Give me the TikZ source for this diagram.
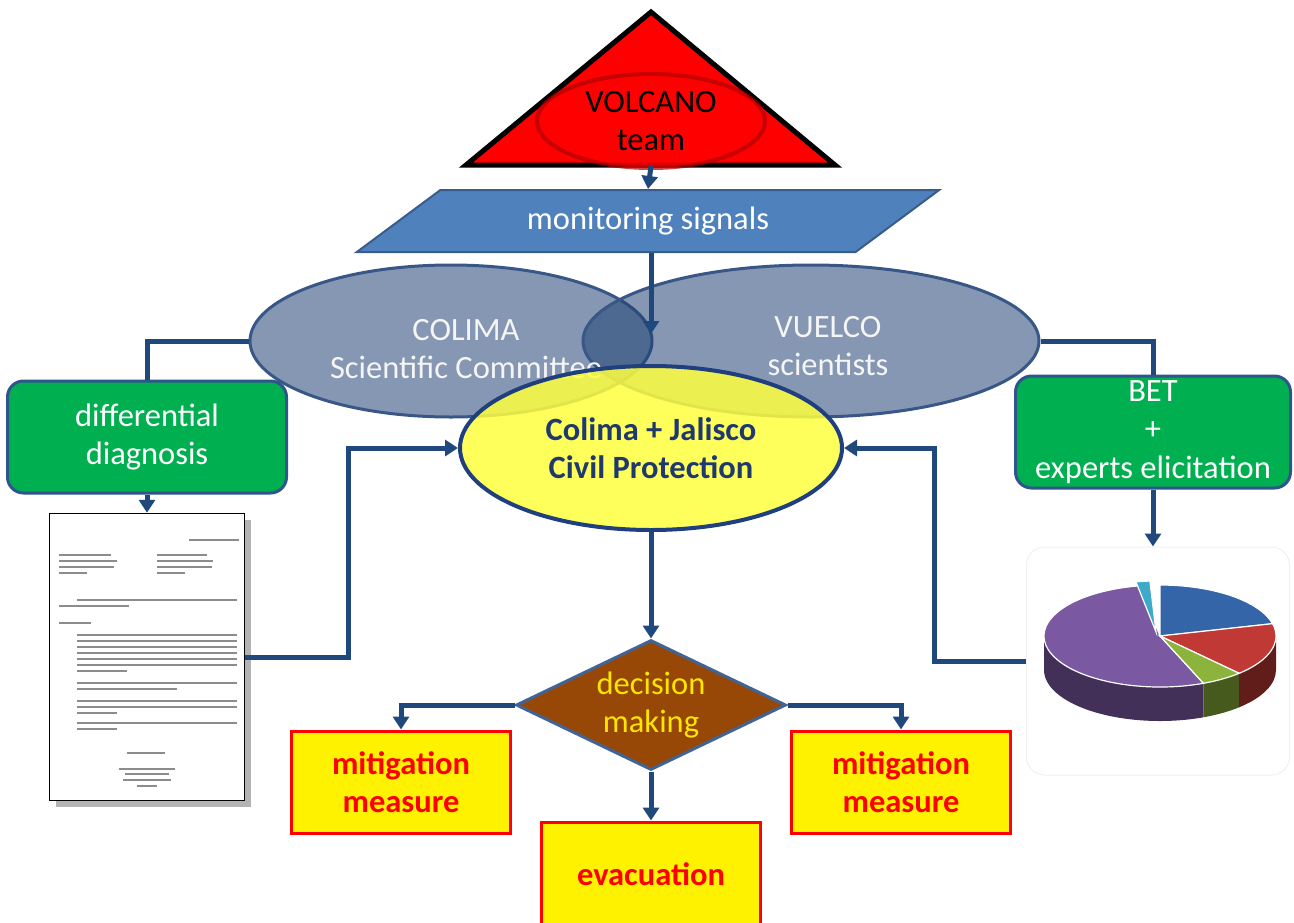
\documentclass[tikz,border=0pt]{standalone}
\usepackage{fontspec}
\setmainfont{Carlito}
\usepackage{xcolor}
\usetikzlibrary{shapes.geometric,arrows.meta,shadows}

\definecolor{linkblue}{RGB}{31,73,125}
\definecolor{ellfill}{RGB}{33,66,115}
\definecolor{elledge}{RGB}{56,87,135}
\definecolor{signalfill}{RGB}{79,129,189}
\definecolor{signaledge}{RGB}{56,93,138}
\definecolor{boxgreen}{RGB}{0,176,80}
\definecolor{boxedge}{RGB}{47,85,140}
\definecolor{cpfill}{RGB}{255,255,64}
\definecolor{cpedge}{RGB}{31,63,127}
\definecolor{cptext}{RGB}{31,56,110}
\definecolor{decfill}{RGB}{152,72,6}
\definecolor{decedge}{RGB}{65,100,150}
\definecolor{dectext}{RGB}{255,230,0}
\definecolor{pieblue}{RGB}{52,101,168}
\definecolor{piered}{RGB}{192,57,52}
\definecolor{piegreen}{RGB}{140,180,60}
\definecolor{piepurple}{RGB}{122,88,162}
\definecolor{piecyan}{RGB}{60,170,200}

\begin{document}
\begin{tikzpicture}[
    x=1pt, y=-1pt,
    font=\fontsize{32.5}{38.5}\selectfont,
    link/.style={draw=linkblue, line width=5pt},
    arrow/.style={link, -{Triangle[length=13pt,width=16pt]}},
    cloud/.style={ellipse, draw=elledge, line width=3pt, fill=ellfill, fill opacity=0.55, minimum height=152pt},
    cloudtext/.style={text={black!4}, align=center, inner sep=0pt},
    greenbox/.style={rectangle, rounded corners=16pt, draw=boxedge, line width=3pt, fill=boxgreen, text=white, align=center, minimum width=279pt, minimum height=112pt},
    action/.style={rectangle, draw=red, line width=3pt, fill=yellow, text=red, font=\fontsize{32.5}{38.5}\selectfont\bfseries, align=center, minimum width=219pt, minimum height=102pt},
    docline/.style={draw=black!45, line width=1.6pt}
]
    \useasboundingbox (0,0) rectangle (1294,922);

    \filldraw[fill=red, draw=black, line width=5pt] (651,12) -- (835,165) -- (466,165) -- cycle;
    \node[ellipse, draw=red!70!black, draw opacity=0.7, line width=4pt, fill=red, fill opacity=0.85, text opacity=1, inner sep=2pt, minimum width=228pt, minimum height=94pt, align=center] (volcano) at (651,121) {VOLCANO\\team};
    \coordinate (vbase) at (651,166);

    \node[trapezium, trapezium left angle=33, trapezium right angle=147, trapezium stretches=true, fill=signalfill, draw=signaledge, line width=2pt, text=white, inner sep=2pt, minimum width=585pt, minimum height=62pt] (signals) at (648,221) {monitoring signals};

    \node[cloud, minimum width=402pt] (colima) at (451,341) {};
    \node[cloud, minimum width=456pt] (vuelco) at (811,341) {};
    \node[cloudtext] (colimatext) at (466,349) {COLIMA\\Scientific Committee};
    \node[cloudtext] (vuelcotext) at (828,346) {VUELCO\\scientists};
    \coordinate (lens) at (651,334);

    \node[ellipse, draw=cpedge, line width=4pt, fill=cpfill, fill opacity=0.85, text opacity=1, text=cptext, font=\fontsize{32.5}{38.5}\selectfont\bfseries, align=center, inner sep=2pt, minimum width=382pt, minimum height=164pt] (cp) at (651,448) {Colima + Jalisco\\Civil Protection};

    \node[greenbox] (diag) at (147,437) {differential\\diagnosis};
    \node[greenbox, minimum width=275pt] (bet) at (1153,432) {BET\\+\\experts elicitation};

    \node[rectangle, draw=black, line width=1.5pt, fill=white, minimum width=195pt, minimum height=287pt, drop shadow={shadow xshift=6pt, shadow yshift=-6pt, fill=black!50, opacity=0.6}] (report) at (147,657) {};
    \foreach \y/\x/\w in {27/140/50, 42/10/52, 48/10/58, 54/10/55, 60/10/28, 42/108/50, 48/108/56, 54/108/55, 60/108/28,
        87/28/160, 93/10/70, 110/10/32,
        122/28/160, 128/28/160, 134/28/160, 140/28/160, 146/28/160, 152/28/160, 158/28/50,
        170/28/160, 176/28/100, 188/28/160, 194/28/160, 200/28/40, 210/28/160, 216/28/40,
        240/78/38, 256/70/56, 261/76/44, 267/74/48, 273/88/20}
        \draw[docline] ([shift={(\x,\y)}]report.north west) -- ++(\w,0);

    \node[draw=black!6, line width=1pt, rounded corners=18pt, minimum width=263pt, minimum height=228pt] (pie) at (1158,661) {};
    \begin{scope}[shift={(1160,636)}]
        \fill[piepurple!55!black] (-68:116pt and 51pt) arc[start angle=-68, end angle=-180, x radius=116pt, y radius=51pt] -- ++(0pt,-34pt) arc[start angle=-180, end angle=-68, x radius=116pt, y radius=51pt] -- cycle;
        \fill[piegreen!50!black] (-47:116pt and 51pt) arc[start angle=-47, end angle=-68, x radius=116pt, y radius=51pt] -- ++(0pt,-34pt) arc[start angle=-68, end angle=-47, x radius=116pt, y radius=51pt] -- cycle;
        \fill[piered!50!black] (0:116pt and 51pt) arc[start angle=0, end angle=-47, x radius=116pt, y radius=51pt] -- ++(0pt,-34pt) arc[start angle=-47, end angle=0, x radius=116pt, y radius=51pt] -- cycle;
        \filldraw[fill=piepurple, draw=white, line width=1.2pt] (0,0) -- (-68:116pt and 51pt) arc[start angle=-68, end angle=-260, x radius=116pt, y radius=51pt] -- cycle;
        \filldraw[fill=pieblue, draw=white, line width=1.2pt] (0,0) -- (90:116pt and 51pt) arc[start angle=90, end angle=14, x radius=116pt, y radius=51pt] -- cycle;
        \filldraw[fill=piered, draw=white, line width=1.2pt] (0,0) -- (14:116pt and 51pt) arc[start angle=14, end angle=-47, x radius=116pt, y radius=51pt] -- cycle;
        \filldraw[fill=piegreen, draw=white, line width=1.2pt] (0,0) -- (-47:116pt and 51pt) arc[start angle=-47, end angle=-68, x radius=116pt, y radius=51pt] -- cycle;
        \filldraw[fill=piecyan, draw=white, line width=1.2pt, shift={(-4pt,4pt)}] (0,0) -- (100:116pt and 51pt) arc[start angle=100, end angle=93, x radius=116pt, y radius=51pt] -- cycle;
    \end{scope}

    \node[diamond, aspect=2.08, fill=decfill, draw=decedge, line width=3pt, text=dectext, align=center, inner sep=1pt, minimum width=270pt, minimum height=130pt] (decision) at (651,705) {decision\\making};

    \node[action] (mitleft) at (401,782) {mitigation\\measure};
    \node[action] (mitright) at (901,782) {mitigation\\measure};
    \node[action, minimum height=104pt] (evac) at (651,874) {evacuation};

    \draw[arrow] (vbase) -- (signals.north);
    \draw[arrow] (lens |- signals.south) -- (lens);
    \draw[link] (colima.west) -| (diag.north);
    \draw[link] (vuelco.east) -| (bet.north);
    \draw[arrow] (diag.south) -- (diag.south |- report.north);
    \draw[arrow] (bet.south) -- (bet.south |- pie.north);
    \draw[arrow] (report.east) -- ++(103,0) |- (cp.west);
    \draw[arrow] (pie.west) -- ++(-92,0) |- (cp.east);
    \draw[arrow] (cp.south) -- (decision.north);
    \draw[arrow] (decision.west) -| (mitleft.north);
    \draw[arrow] (decision.east) -| (mitright.north);
    \draw[arrow] (decision.south) -- (evac.north);
\end{tikzpicture}
\end{document}
